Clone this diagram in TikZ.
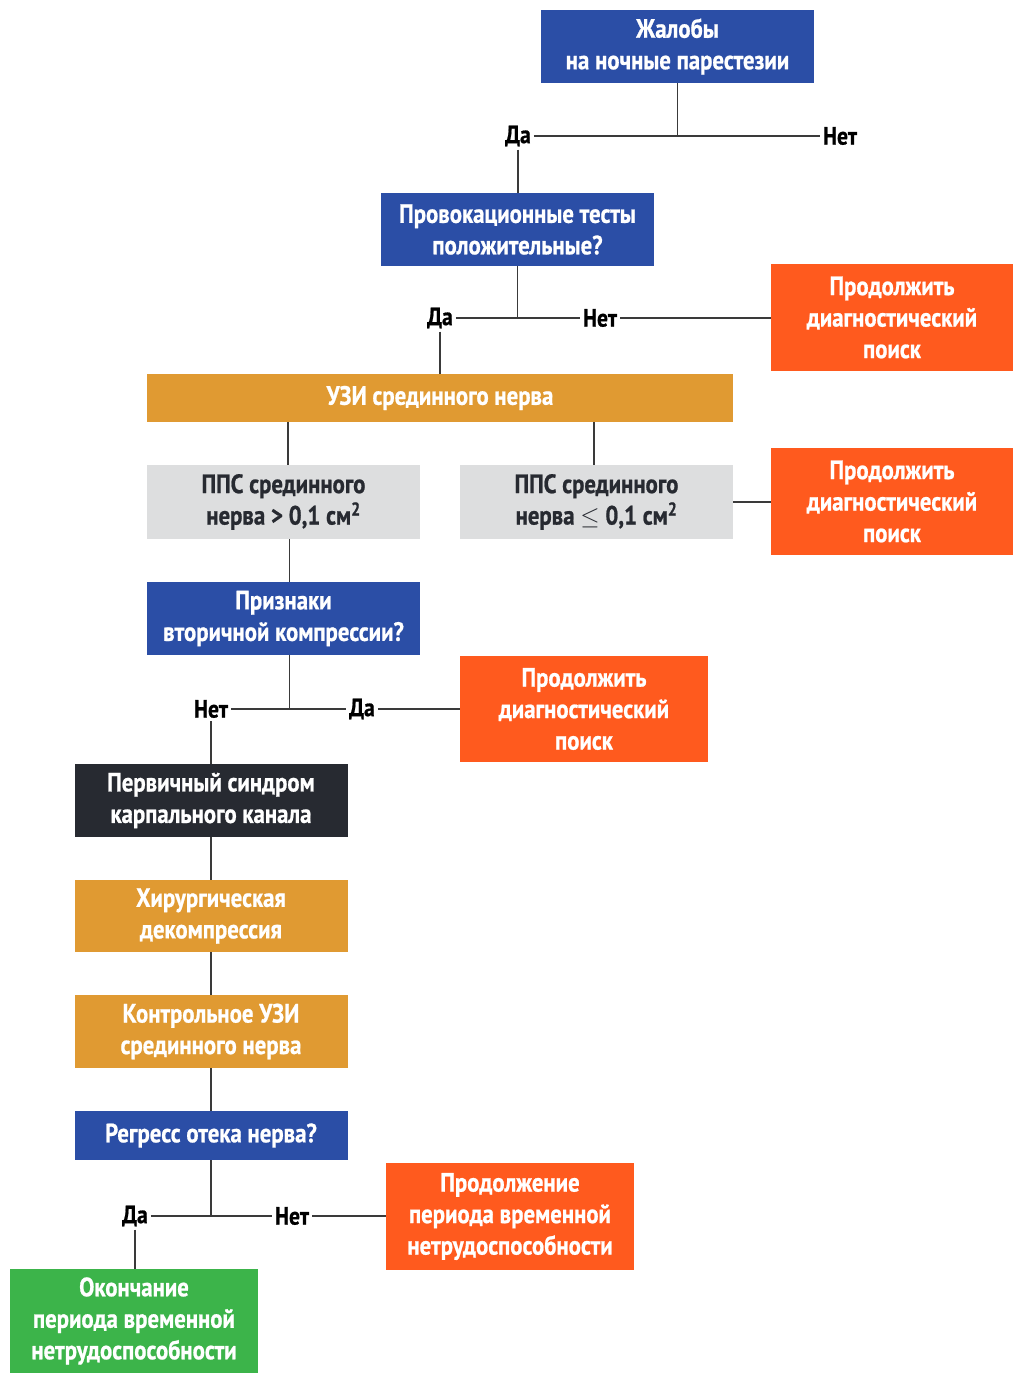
\documentclass[tikz,border=0pt]{standalone}
\usepackage{fontspec}
\setmainfont{PT Sans}[FakeStretch=0.86, BoldFont={PT Sans Bold}, BoldFeatures={FakeStretch=0.86, FakeBold=0.8}]
\usetikzlibrary{positioning}
\definecolor{cblue}{HTML}{2B4EA6}
\definecolor{corange}{HTML}{FF5A1E}
\definecolor{cgold}{HTML}{E09A32}
\definecolor{cgray}{HTML}{DDDEDF}
\definecolor{cdark}{HTML}{272A31}
\definecolor{cgreen}{HTML}{3CB44A}
\definecolor{cline}{HTML}{3A3A3A}
\tikzset{
  box/.style={rectangle, inner sep=0pt, align=center, text=white,
    font=\fontsize{26.5}{31.5}\selectfont\bfseries},
  bluebox/.style={box, fill=cblue, minimum width=273pt, minimum height=73pt},
  orangebox/.style={box, fill=corange, minimum width=242pt, minimum height=107pt},
  goldbox/.style={box, fill=cgold, minimum width=273pt, minimum height=73pt},
  graybox/.style={box, fill=cgray, text=cdark, minimum width=273pt, minimum height=74pt},
  darkbox/.style={box, fill=cdark, minimum width=273pt, minimum height=73pt},
  greenbox/.style={box, fill=cgreen, minimum width=248pt, minimum height=104pt},
  lbl/.style={inner sep=3pt, text=black, font=\fontsize{25}{28}\selectfont\bfseries},
  conn/.style={draw=cline, line width=1.3pt}
}
\begin{document}
\begin{tikzpicture}[x=1pt,y=-1pt]
\useasboundingbox[fill=white] (0,0) rectangle (1013,1373);
% boxes
\node[bluebox] (n1) at (677.5,46.5) {Жалобы\\на ночные парестезии};
\node[bluebox] (n2) at (517.5,229.5) {Провокационные тесты\\положительные?};
\node[orangebox] (o1) at (892,317.5) {Продолжить\\диагностический\\поиск};
\node[box, fill=cgold, minimum width=586pt, minimum height=48pt] (u1) at (440,398) {УЗИ срединного нерва};
\node[graybox] (g1) at (283.5,502) {ППС срединного\\нерва > 0,1 см\textsuperscript{2}};
\node[graybox] (g2) at (596.5,502) {ППС срединного\\нерва $\leq$ 0,1 см\textsuperscript{2}};
\node[orangebox] (o2) at (892,501.5) {Продолжить\\диагностический\\поиск};
\node[bluebox] (n3) at (283.5,618.5) {Признаки\\вторичной компрессии?};
\node[orangebox, minimum width=248pt, minimum height=106pt] (o3) at (584,709) {Продолжить\\диагностический\\поиск};
\node[darkbox] (d1) at (211,800.5) {Первичный синдром\\карпального канала};
\node[goldbox, minimum height=72pt] (k1) at (211,916) {Хирургическая\\декомпрессия};
\node[goldbox] (k2) at (211,1031.5) {Контрольное УЗИ\\срединного нерва};
\node[box, fill=cblue, minimum width=273pt, minimum height=49pt] (n4) at (211,1135.5) {Регресс отека нерва?};
\node[orangebox, minimum width=248pt] (o4) at (510,1216.5) {Продолжение\\периода временной\\нетрудоспособности};
\node[greenbox] (e1) at (134,1321) {Окончание\\периода временной\\нетрудоспособности};
% labels
\node[lbl] (da1) at (518,136) {Да};
\node[lbl] (nt1) at (840,136) {Нет};
\node[lbl] (da2) at (440,318) {Да};
\node[lbl] (nt2) at (600,318) {Нет};
\node[lbl] (nt3) at (211,709) {Нет};
\node[lbl] (da3) at (362,709) {Да};
\node[lbl] (da4) at (135,1216) {Да};
\node[lbl] (nt4) at (292,1216) {Нет};
% connectors
\draw[conn] (n1.south) -- (n1.south |- da1.east);
\draw[conn] (da1.east) -- (nt1.west);
\draw[conn] (da1.south) -- (da1.south |- n2.north);
\draw[conn] (n2.south) -- (n2.south |- da2.east);
\draw[conn] (da2.east) -- (nt2.west);
\draw[conn] (nt2.east) -- (nt2.east -| o1.west);
\draw[conn] (da2.south) -- (da2.south |- u1.north);
\draw[conn] ([xshift=-152pt]u1.south) -- ([xshift=-152pt]u1.south |- g1.north);
\draw[conn] ([xshift=154pt]u1.south) -- ([xshift=154pt]u1.south |- g2.north);
\draw[conn] (g2.east) -- (g2.east -| o2.west);
\draw[conn] ([xshift=6pt]g1.south) -- ([xshift=6pt]g1.south |- n3.north);
\draw[conn] ([xshift=6pt]n3.south) -- ([xshift=6pt]n3.south |- nt3.east);
\draw[conn] (nt3.east) -- (da3.west);
\draw[conn] (da3.east) -- (da3.east -| o3.west);
\draw[conn] (nt3.south) -- (nt3.south |- d1.north);
\draw[conn] (d1.south) -- (k1.north);
\draw[conn] (k1.south) -- (k2.north);
\draw[conn] (k2.south) -- (n4.north);
\draw[conn] (n4.south) -- (n4.south |- da4.east);
\draw[conn] (da4.east) -- (nt4.west);
\draw[conn] (nt4.east) -- (nt4.east -| o4.west);
\draw[conn] (da4.south) -- (da4.south |- e1.north);
\end{tikzpicture}
\end{document}
